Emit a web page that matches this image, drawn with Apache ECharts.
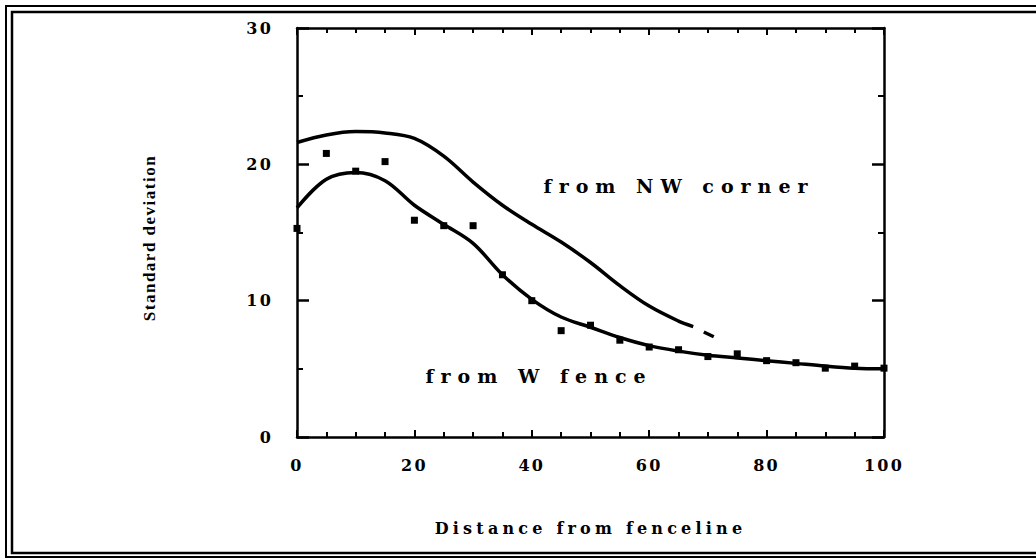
<!DOCTYPE html>
<html>
<head>
<meta charset="utf-8">
<script src="https://cdn.jsdelivr.net/npm/echarts@6/dist/echarts.min.js"></script>
<style>
  html,body{margin:0;padding:0;background:#fff}
  #chart{width:1036px;height:558px}
</style>
</head>
<body>
<div id="chart"></div>
<script>
// scatter points (both fences measured every 5 m)
const distance=[0,5,10,15,20,25,30,35,40,45,50,55,60,65,70,75,80,85,90,95,100]
const sdPoints=[15.3,20.8,19.5,20.2,15.9,15.5,15.5,11.9,10.0,7.8,8.2,7.1,6.6,6.4,5.9,6.1,5.6,5.45,5.05,5.2,5.05]

// fitted curve "from W fence", read every 5 m
const wFenceX=[0,5,10,15,20,25,30,35,40,45,50,55,60,65,70,75,80,85,90,95,100]
const wFenceY=[16.8,18.9,19.4,18.8,17.0,15.6,14.2,11.9,10.1,8.8,8.05,7.3,6.7,6.3,6.0,5.8,5.6,5.4,5.2,5.05,5.0]

// fitted curve "from NW corner" (ends with a short broken piece)
const nwX=[0,5,10,15,20,25,30,35,40,45,50,55,60,65,67.5]
const nwY=[21.6,22.15,22.4,22.3,21.9,20.6,18.7,17.0,15.6,14.3,12.8,11.1,9.6,8.5,8.1]
const nwDashX=[69.3,71]
const nwDashY=[7.7,7.35]

const xTicks={min:0,max:100,step:20}
const yTicks={min:0,max:30,step:10}

const zip=(a,b)=>a.map((v,i)=>[v,b[i]])

const myChart=echarts.init(document.querySelector('#chart'),null,{renderer:'svg'})

const tickFont={color:'#000',fontFamily:'DejaVu Serif',fontWeight:'bold',fontSize:16}
const axisLine={show:true,onZero:false,lineStyle:{color:'#000',width:2.5}}

const xBase={
  type:'value',min:xTicks.min,max:xTicks.max,interval:xTicks.step,
  axisLine:axisLine,
  axisTick:{show:true,inside:true,length:7,lineStyle:{color:'#000',width:2}},
  minorTick:{show:true,splitNumber:4,length:5,lineStyle:{color:'#000',width:2}},
  splitLine:{show:false},minorSplitLine:{show:false}
}
const yBase={
  type:'value',min:yTicks.min,max:yTicks.max,interval:yTicks.step,
  axisLine:axisLine,
  axisTick:{show:true,inside:true,length:12,lineStyle:{color:'#000',width:2.5}},
  minorTick:{show:true,splitNumber:2,length:6,lineStyle:{color:'#000',width:2}},
  splitLine:{show:false},minorSplitLine:{show:false}
}

const curve={type:'line',smooth:0.35,symbol:'none',silent:true,
  lineStyle:{color:'#000',width:3.5},itemStyle:{color:'#000'}}

const option={
  animation:false,
  backgroundColor:'#fff',
  grid:{left:297,right:152,top:28,bottom:121},
  xAxis:[
    Object.assign({},xBase,{
      position:'bottom',
      axisLabel:Object.assign({margin:20},tickFont),
      name:'Distance from fenceline',nameLocation:'middle',nameGap:83,
      nameTextStyle:{color:'#000',fontFamily:'DejaVu Serif',fontWeight:'bold',fontSize:16}
    }),
    Object.assign({},xBase,{position:'top',axisLabel:{show:false}})
  ],
  yAxis:[
    Object.assign({},yBase,{position:'left',axisLabel:Object.assign({margin:24},tickFont)}),
    Object.assign({},yBase,{position:'right',axisLabel:{show:false}})
  ],
  series:[
    Object.assign({},curve,{name:'from NW corner',data:zip(nwX,nwY)}),
    Object.assign({},curve,{name:'from NW corner (end)',data:zip(nwDashX,nwDashY)}),
    Object.assign({},curve,{name:'from W fence',data:zip(wFenceX,wFenceY)}),
    {
      type:'scatter',name:'measured',symbol:'rect',symbolSize:7,
      itemStyle:{color:'#000',opacity:1},data:zip(distance,sdPoints)
    }
  ],
  graphic:[
    {type:'rect',silent:true,shape:{x:6,y:6,width:1040,height:551},style:{fill:null,stroke:'#000',lineWidth:2}},
    {type:'rect',silent:true,shape:{x:12,y:12,width:1040,height:541},style:{fill:null,stroke:'#000',lineWidth:2.5}},
    {type:'text',x:149,y:238,rotation:Math.PI/2,
      style:{text:'Standard deviation',fill:'#000',font:'bold 17px "Liberation Serif"',align:'center',verticalAlign:'middle'}},
    {type:'text',x:679,y:186,
      style:{text:'from NW corner',fill:'#000',font:'bold 19px "DejaVu Serif"',align:'center',verticalAlign:'middle'}},
    {type:'text',x:539,y:376,
      style:{text:'from W fence',fill:'#000',font:'bold 19px "DejaVu Serif"',align:'center',verticalAlign:'middle'}}
  ]
}

myChart.setOption(option)

// the original typeface is widely spaced
const spacing={'from NW corner':7,'from W fence':7,'Distance from fenceline':4.2,'Standard deviation':1.5}
function spaceLetters(){
  document.querySelectorAll('#chart text').forEach(t=>{
    const s=spacing[t.textContent.trim()]
    t.setAttribute('letter-spacing',(s===undefined?2.2:s)+'px')
    t.style.letterSpacing=(s===undefined?2.2:s)+'px'
  })
}
spaceLetters()
myChart.on('finished',spaceLetters)
</script>
</body>
</html>
